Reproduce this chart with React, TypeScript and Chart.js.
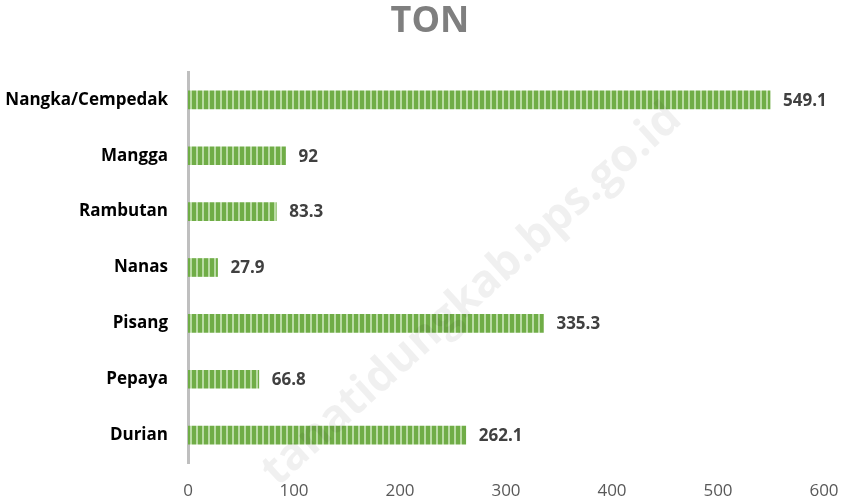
import React, { useEffect, useRef } from "react";
import { Chart, registerables } from "chart.js";

Chart.register(...registerables);

const categories = ["Nangka/Cempedak", "Mangga", "Rambutan", "Nanas", "Pisang", "Pepaya", "Durian"];
const values = [549.1, 92, 83.3, 27.9, 335.3, 66.8, 262.1];
const xTicksMax = 600;
const xStep = 100;
const titleText = "TON";
const watermarkText = "tanatidungkab.bps.go.id";

function makePattern(): CanvasPattern | string {
  const c = document.createElement("canvas");
  c.width = 6;
  c.height = 6;
  const ctx = c.getContext("2d");
  if (!ctx) return "#70AD47";
  ctx.fillStyle = "#70AD47";
  ctx.fillRect(0, 0, 6, 6);
  ctx.fillStyle = "#B9DBA3";
  ctx.fillRect(4, 0, 2, 6);
  const p = ctx.createPattern(c, "repeat");
  return p || "#70AD47";
}

const labelPlugin = {
  id: "barValueLabels",
  afterDatasetsDraw(chart: any) {
    const ctx = chart.ctx;
    const meta = chart.getDatasetMeta(0);
    ctx.save();
    ctx.font = "bold 17px 'Open Sans'";
    ctx.fillStyle = "#404040";
    ctx.textAlign = "left";
    ctx.textBaseline = "middle";
    meta.data.forEach((el: any, i: number) => {
      ctx.fillText(String(values[i]), el.x + 13, el.y + 1);
    });
    ctx.restore();
  },
};

const titlePlugin = {
  id: "customTitle",
  afterDraw(chart: any) {
    const ctx = chart.ctx;
    ctx.save();
    ctx.font = "bold 36px 'Open Sans'";
    ctx.fillStyle = "#7F7F7F";
    ctx.textAlign = "center";
    ctx.textBaseline = "middle";
    ctx.fillText(titleText, 430, 22);
    ctx.restore();
  },
};

const watermarkPlugin = {
  id: "watermark",
  afterDraw(chart: any) {
    const ctx = chart.ctx;
    ctx.save();
    ctx.translate(472, 295);
    ctx.rotate((-42 * Math.PI) / 180);
    ctx.font = "bold 45px 'Open Sans'";
    ctx.fillStyle = "rgba(0,0,0,0.06)";
    ctx.textAlign = "center";
    ctx.textBaseline = "middle";
    ctx.fillText(watermarkText, 0, 0);
    ctx.restore();
  },
};

export default function App() {
  const ref = useRef<HTMLCanvasElement | null>(null);
  useEffect(() => {
    if (!ref.current) return;
    Chart.defaults.font.family = "'Open Sans'";
    const chart = new Chart(ref.current, {
      type: "bar",
      data: {
        labels: categories,
        datasets: [
          {
            data: values,
            backgroundColor: makePattern() as any,
            borderWidth: 0,
            barThickness: 18,
          },
        ],
      },
      options: {
        indexAxis: "y",
        animation: false,
        responsive: false,
        maintainAspectRatio: false,
        layout: { padding: { left: 0, right: 22, top: 72, bottom: 0 } },
        plugins: {
          legend: { display: false },
          tooltip: { enabled: false },
          title: { display: false },
        },
        scales: {
          x: {
            min: 0,
            max: xTicksMax,
            grid: { display: false, drawTicks: false },
            border: { display: false },
            ticks: {
              stepSize: xStep,
              color: "#595959",
              font: { size: 17 },
              padding: 18,
              maxRotation: 0,
            },
            afterFit(scale: any) {
              scale.height = 36;
              scale.paddingRight = 0;
              scale.paddingLeft = 0;
            },
          },
          y: {
            z: 1,
            grid: { display: false, drawTicks: false },
            border: { display: true, color: "#BFBFBF", width: 3 },
            ticks: {
              color: "#000000",
              font: { size: 17, weight: "bold" },
              padding: 20,
            },
            afterFit(scale: any) {
              scale.width = 188;
              scale.paddingTop = 0;
              scale.paddingBottom = 0;
            },
          },
        },
      },
      plugins: [labelPlugin, titlePlugin, watermarkPlugin],
    });
    return () => chart.destroy();
  }, []);
  return (
    <div style={{ position: "fixed", left: 0, top: 0, width: 846, height: 499, background: "#fff" }}>
      <canvas ref={ref} width={846} height={499} style={{ width: 846, height: 499, display: "block" }} />
    </div>
  );
}
